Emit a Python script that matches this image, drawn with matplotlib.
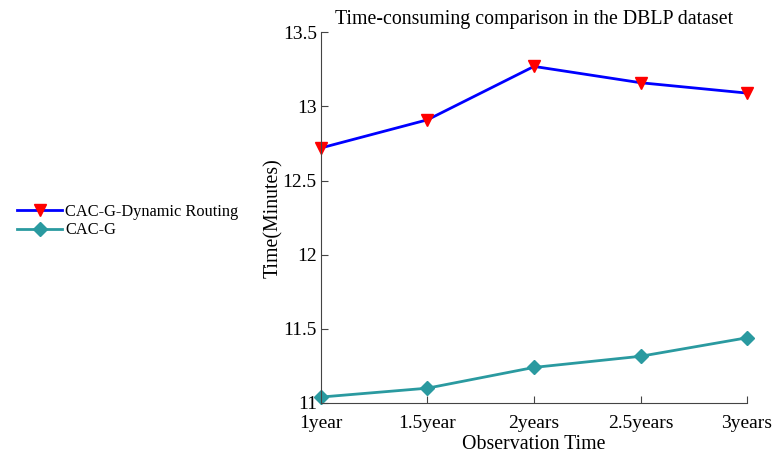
import matplotlib
matplotlib.use("Agg")
import matplotlib.pyplot as plt

categories = ["1year", "1.5year", "2years", "2.5years", "3years"]
dynamic_routing = [12.72, 12.91, 13.27, 13.16, 13.09]
cac_g = [11.04, 11.10, 11.24, 11.315, 11.44]
yticks = [11, 11.5, 12, 12.5, 13, 13.5]
ytick_labels = ["11", "11.5", "12", "12.5", "13", "13.5"]

plt.rcParams['font.family'] = ['Liberation Serif', 'DejaVu Serif']

fig = plt.figure(figsize=(7.79, 4.55), dpi=100)
ax = fig.add_axes([0.412, 0.1143, 0.547, 0.8147])

x = list(range(len(categories)))
l1, = ax.plot(x, dynamic_routing, color='#0000FF', lw=2, marker='v', markersize=9,
              markerfacecolor='#FF0000', markeredgecolor='#FF0000', label='CAC-G-Dynamic Routing',
              clip_on=False)
l2, = ax.plot(x, cac_g, color='#2A9AA0', lw=2, marker='D', markersize=7,
              markerfacecolor='#2A9AA0', markeredgecolor='#2A9AA0', label='CAC-G',
              clip_on=False)

ax.set_xlim(0, 4)
ax.set_ylim(11, 13.5)
ax.set_xticks(x)
ax.set_xticklabels(categories, fontsize=14)
ax.set_yticks(yticks)
ax.set_yticklabels(ytick_labels, fontsize=14)
ax.tick_params(direction='in', length=5, width=0.8, color='#444444')
ax.tick_params(axis='x', pad=9)
ax.tick_params(axis='y', pad=3)
for s in ['top', 'right']:
    ax.spines[s].set_visible(False)
for s in ['left', 'bottom']:
    ax.spines[s].set_color('#444444')
    ax.spines[s].set_linewidth(0.8)

ax.set_xlabel("Observation Time", fontsize=14.3, labelpad=2)
ax.set_ylabel("Time(Minutes)", fontsize=14.3, labelpad=0)
ax.set_title("Time-consuming comparison in the DBLP dataset", fontsize=14.3, pad=6)

fig.legend(handles=[l1, l2], loc='center left', bbox_to_anchor=(0.014, 0.514),
           frameon=False, fontsize=11.8, handlelength=2.7, handletextpad=0.2,
           labelspacing=0.15, borderaxespad=0)

fig.savefig("out.png", dpi=100)
